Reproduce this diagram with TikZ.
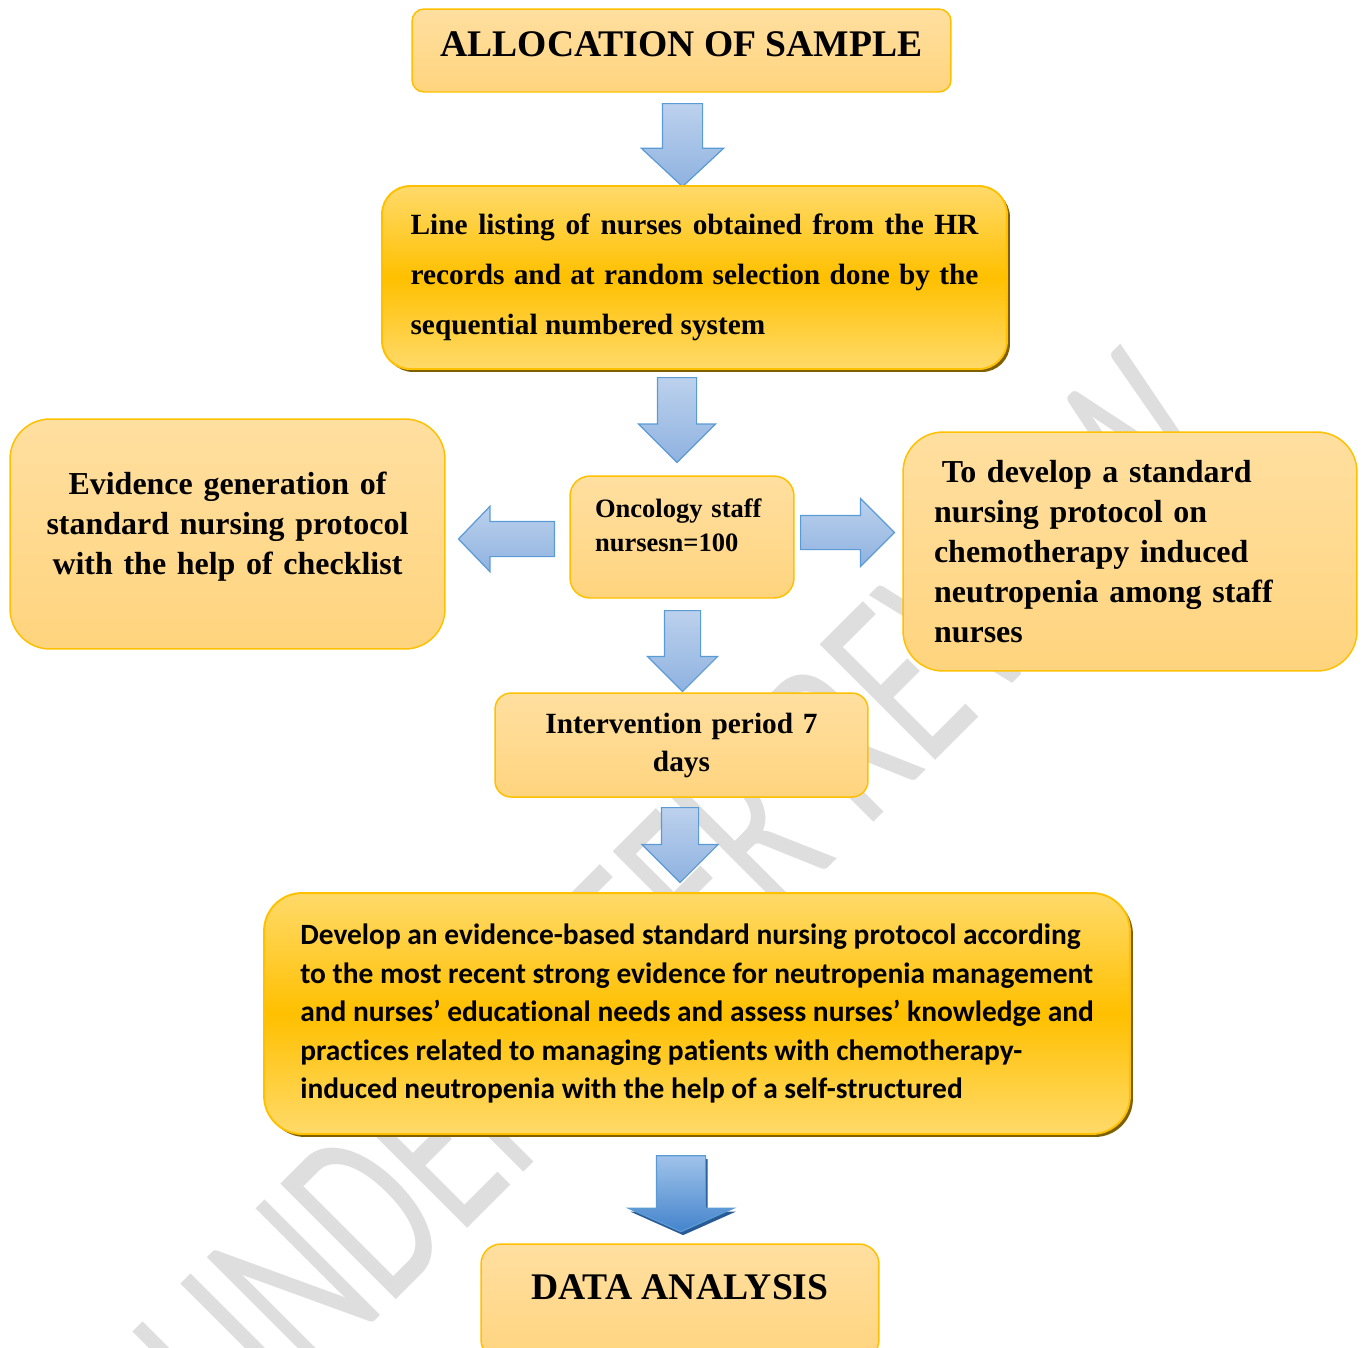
\documentclass[tikz,border=0pt]{standalone}
\usepackage{fontspec}
\setmainfont{Liberation Serif}
\newfontfamily\calibri[Ligatures={NoCommon}]{Carlito}
\usetikzlibrary{positioning,shapes.arrows,shadows}

\definecolor{boxedge}{RGB}{255,192,0}
\definecolor{boxtop}{RGB}{255,223,160}
\definecolor{boxbottom}{RGB}{255,212,126}
\definecolor{goldtop}{RGB}{255,218,106}
\definecolor{goldmid}{RGB}{255,192,0}
\definecolor{goldshadow}{RGB}{127,96,0}
\definecolor{arrowedge}{RGB}{91,155,213}
\definecolor{arrowtop}{RGB}{188,209,237}
\definecolor{arrowbottom}{RGB}{143,178,224}
\definecolor{deeptop}{RGB}{160,195,234}
\definecolor{deepbottom}{RGB}{68,132,204}
\definecolor{deepshadow}{RGB}{40,90,150}
\definecolor{stamp}{RGB}{222,222,222}

\newcommand{\lift}[1]{\rule[-#1]{0pt}{#1}}
\hyphenpenalty=10000

\begin{document}
\begin{tikzpicture}[x=0.02cm, y=-0.02cm,
    lightbox/.style={draw=boxedge, line width=0.85pt, top color=boxtop, bottom color=boxbottom, inner sep=0pt},
    goldbox/.style={draw=boxedge, line width=1.1pt, top color=goldtop, bottom color=goldtop, middle color=goldmid, inner sep=0pt,
        drop shadow={fill=goldshadow, opacity=1, shadow xshift=1.7pt, shadow yshift=-1.7pt}},
    flowarrow/.style={single arrow, draw=arrowedge, line width=0.7pt, top color=arrowtop, bottom color=arrowbottom, anchor=tail, single arrow tip angle=90},
    bigarrow/.style={flowarrow, top color=deeptop, bottom color=deepbottom,
        drop shadow={fill=deepshadow, opacity=1, shadow xshift=1.2pt, shadow yshift=-2pt}}]
    \clip (0,0) rectangle (1363,1347);

    % watermark
    \node[text=stamp, anchor=base west, rotate=45, xscale=0.64, inner sep=0pt, font=\calibri\fontsize{145pt}{145pt}\selectfont] (mark) at (240,1456) {UNDER PEER REVIEW};

    % arrows
    \node[flowarrow, shape border rotate=270, minimum height=1.66cm, inner sep=0.39cm, single arrow head extend=0.42cm, single arrow tip angle=94] (arr1) at (682.5,103) {};
    \node[flowarrow, shape border rotate=270, minimum height=1.7cm, inner sep=0.38cm, single arrow head extend=0.38cm] (arr2) at (677,377) {};
    \node[flowarrow, shape border rotate=180, minimum height=1.92cm, inner sep=0.34cm, single arrow head extend=0.3cm, single arrow tip angle=92] (arr3) at (555,539) {};
    \node[flowarrow, minimum height=1.88cm, inner sep=0.33cm, single arrow head extend=0.34cm] (arr4) at (800,532.5) {};
    \node[flowarrow, shape border rotate=270, minimum height=1.62cm, inner sep=0.35cm, single arrow head extend=0.34cm] (arr5) at (682.5,610) {};
    \node[flowarrow, shape border rotate=270, minimum height=1.5cm, inner sep=0.36cm, single arrow head extend=0.39cm] (arr6) at (680,807) {};
    \node[bigarrow, shape border rotate=270, minimum height=1.52cm, inner sep=0.48cm, single arrow head extend=0.56cm, single arrow tip angle=132] (arr7) at (681,1155) {};

    % boxes
    \node[lightbox, rounded corners=0.24cm, minimum width=10.78cm, minimum height=1.66cm,
        font=\fontsize{21.4pt}{25pt}\selectfont\bfseries] (alloc) at (681.5,50.5) {ALLOCATION OF SAMPLE\lift{7pt}};
    \node[goldbox, rounded corners=0.56cm, minimum width=12.5cm, minimum height=3.66cm, text width=11.36cm, align=justify,
        font=\fontsize{16.7pt}{28.5pt}\selectfont\bfseries] (listing) at (694.5,277.5)
        {Line listing of nurses obtained from the HR records and at random selection done by the sequential numbered system};
    \node[lightbox, rounded corners=0.4cm, minimum width=4.48cm, minimum height=2.44cm, text width=3.48cm, align=left,
        font=\fontsize{15.1pt}{19.3pt}\selectfont\bfseries] (onco) at (682,537) {Oncology staff\\nursesn=100\lift{13pt}};
    \node[lightbox, rounded corners=0.8cm, minimum width=8.7cm, minimum height=4.6cm, text width=8cm, align=center,
        font=\fontsize{18.2pt}{22.8pt}\selectfont\bfseries] (evid) at (227.5,534)
        {Evidence generation of\\standard nursing protocol\\with the help of checklist\lift{12pt}};
    \node[lightbox, rounded corners=0.8cm, minimum width=9.08cm, minimum height=4.78cm, text width=7.84cm, align=left,
        font=\fontsize{18.2pt}{22.8pt}\selectfont\bfseries] (aim) at (1130,551.5)
        {\hspace*{4.5pt}To develop a standard\\nursing protocol on\\chemotherapy induced\\neutropenia among staff\\nurses};
    \node[lightbox, rounded corners=0.32cm, minimum width=7.46cm, minimum height=2.08cm, text width=6.8cm, align=center,
        font=\fontsize{16.7pt}{21.6pt}\selectfont\bfseries] (interv) at (681.5,745) {Intervention period 7\\days};
    \node[goldbox, rounded corners=0.76cm, minimum width=17.32cm, minimum height=4.82cm, align=left,
        font=\calibri\fontsize{16.75pt}{21.9pt}\selectfont\bfseries] (protocol) at (697,1013.5)
        {Develop an evidence-based standard nursing protocol according\\
         to the most recent strong evidence for neutropenia management\\
         and nurses’ educational needs and assess nurses’ knowledge and\\
         practices related to managing patients with chemotherapy-\\
         induced neutropenia with the help of a self-structured};
    \node[lightbox, rounded corners=0.4cm, minimum width=7.96cm, minimum height=2.32cm,
        font=\fontsize{21.4pt}{25pt}\selectfont\bfseries] (analysis) at (680,1302) {DATA ANALYSIS\lift{17pt}};
\end{tikzpicture}
\end{document}
